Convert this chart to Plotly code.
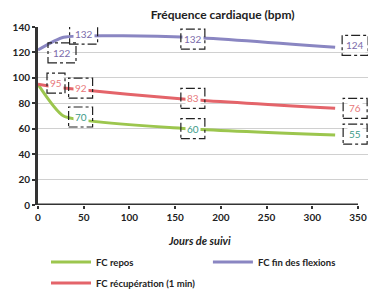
import plotly.graph_objects as go

days = [0, 28, 165, 325]
fc_repos = [95, 70, 60, 55]
fc_fin = [122, 132, 132, 124]
fc_recup = [95, 92, 83, 76]
repos_labels = [None, "70", "60", "55"]
fin_labels = ["122", "132", "132", "124"]
recup_labels = ["95", "92", "83", "76"]

# (name, values, labels, line colour, label colour, per-point label offsets (dx, dy, half-width))
series = [
    ("FC repos", fc_repos, repos_labels, "#9cc64e", "#3a9a88",
     [(0, 0, 12), (17, -1, 12), (4, 0, 12), (20, 1, 12)], "legend"),
    ("FC fin des flexions", fc_fin, fin_labels, "#8a86c2", "#7a6aaa",
     [(24, -3, 14), (20, 3, 14), (4, -2, 12), (20, 2, 13)], "legend2"),
    ("FC récupération (1 min)", fc_recup, recup_labels, "#e4646a", "#e8787a",
     [(18, 1, 9), (17, 0, 12), (4, 1, 12), (20, 0, 12)], "legend3"),
]

fig = go.Figure()
annotations = []
shapes = []
for name, vals, labels, lc, tc, offs, lg in series:
    fig.add_trace(go.Scatter(x=days, y=vals, mode="lines", name="<b>%s</b>" % name,
                             legend=lg, hoverinfo="skip",
                             line=dict(color=lc, width=3, shape="spline", smoothing=0.5)))
    for i, (d, v, lab) in enumerate(zip(days, vals, labels)):
        if lab is None:
            continue
        ox, oy, hw = offs[i]
        annotations.append(dict(x=d, y=v, text=lab, showarrow=False, xshift=ox, yshift=oy,
                                font=dict(color=tc, size=10, family="Lato"),
                                bgcolor="white"))
        shapes.append(dict(type="rect", xref="x", yref="y", xsizemode="pixel", ysizemode="pixel",
                           xanchor=d, yanchor=v, x0=ox - hw, x1=ox + hw,
                           y0=oy - 10, y1=oy + 10,
                           line=dict(color="#222", width=1.2, dash="dashdot"),
                           fillcolor="rgba(255,255,255,0)", layer="above"))

# x axis baseline drawn from 0 to 350
shapes.append(dict(type="line", xref="x", yref="y", x0=0, x1=350, y0=0, y1=0,
                   line=dict(color="#333", width=3), layer="above"))

leg_common = dict(yref="container", xref="container", yanchor="middle", xanchor="left",
                  itemwidth=40, font=dict(size=9.5, color="#222"), bgcolor="rgba(0,0,0,0)",
                  orientation="v")

fig.update_layout(
    width=368, height=292,
    margin=dict(l=38, r=0, t=27, b=87, autoexpand=False),
    paper_bgcolor="white", plot_bgcolor="white",
    font=dict(family="Lato", color="#222"),
    title=dict(text="<b>Fréquence cardiaque (bpm)</b>", x=0.605, xanchor="center", y=0.95,
               yanchor="middle", font=dict(size=12, color="#222")),
    showlegend=True,
    legend=dict(x=0.125, y=1 - 262 / 292, **leg_common),
    legend2=dict(x=0.565, y=1 - 262 / 292, **leg_common),
    legend3=dict(x=0.125, y=1 - 283 / 292, **leg_common),
    annotations=annotations + [dict(text="<b><i>Jours de suivi</i></b>", xref="paper", yref="paper",
                                    x=0.488, y=-0.2, yanchor="middle", showarrow=False,
                                    font=dict(size=11, color="#222"))],
    shapes=shapes,
)
fig.update_xaxes(range=[0, 350 * 330 / 320], tickvals=[0, 50, 100, 150, 200, 250, 300, 350],
                 ticktext=["<b>%d</b>" % v for v in [0, 50, 100, 150, 200, 250, 300, 350]],
                 showgrid=False, zeroline=False, showline=False,
                 ticks="outside", ticklen=3, tickwidth=2, tickcolor="#333", automargin=False,
                 tickfont=dict(size=10, color="#222"))
fig.update_yaxes(range=[0, 140], tickvals=list(range(0, 141, 20)),
                 ticktext=["<b>%d</b>" % v for v in range(0, 141, 20)],
                 showgrid=True, gridcolor="#d0d0d0", gridwidth=1, zeroline=False,
                 showline=True, linewidth=3, linecolor="#333", automargin=False,
                 ticks="outside", ticklen=3, tickwidth=2, tickcolor="#333",
                 tickfont=dict(size=10, color="#222"))
fig.write_html("out.html", config={"displayModeBar": False},
               post_script="document.body.style.margin='0';")
